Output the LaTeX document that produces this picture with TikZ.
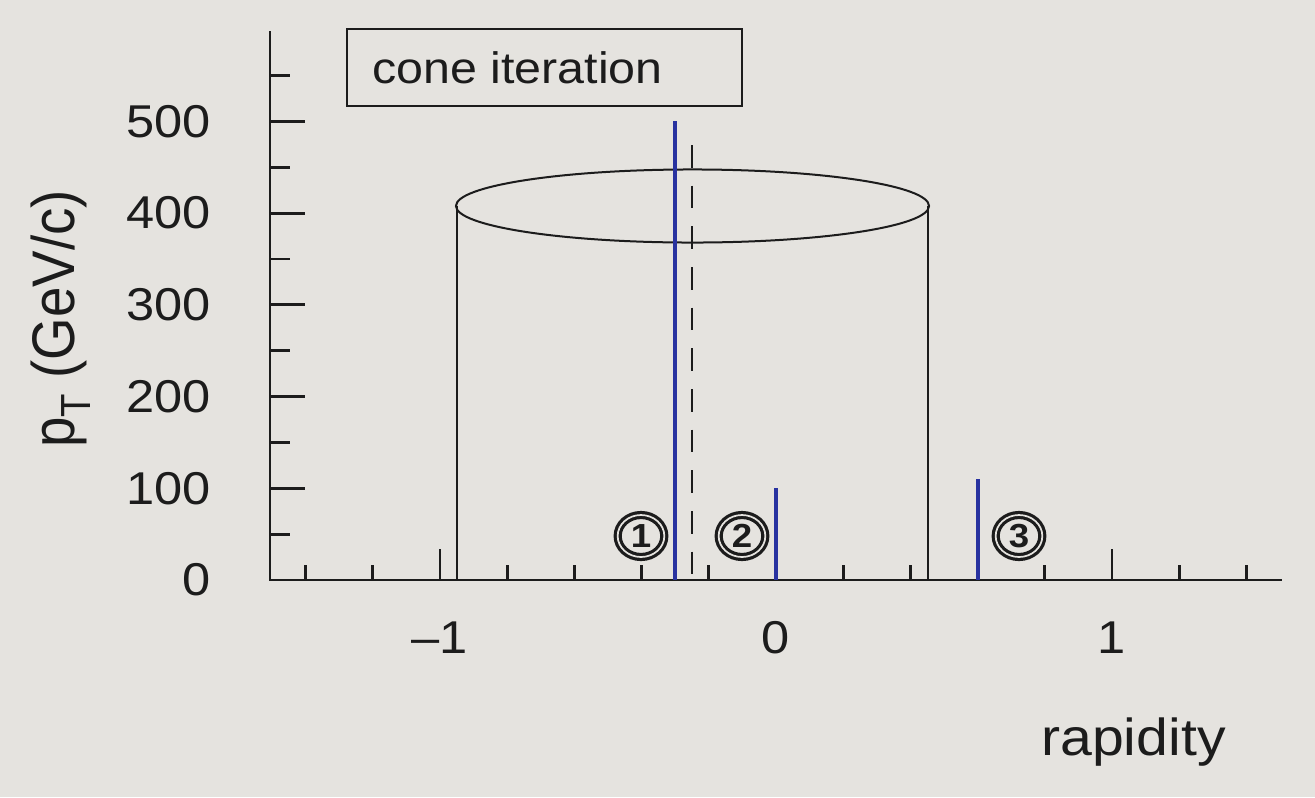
\documentclass[tikz,border=0pt]{standalone}
\usepackage{fontspec}
\setmainfont{Liberation Sans}
\usetikzlibrary{shapes.geometric}
\definecolor{bgc}{RGB}{229,227,223}
\definecolor{jetc}{RGB}{40,50,160}
\definecolor{inkc}{RGB}{28,28,28}
\newcommand\wideit[1]{\scalebox{1.1}[1]{#1}}
\tikzset{
  axisline/.style={line width=2.2pt, draw=inkc, line cap=rect},
  tickmark/.style={line width=2.2pt, draw=inkc},
  cyl/.style={line width=1.5pt, draw=inkc},
  jetline/.style={line width=3pt, draw=jetc},
  coneaxis/.style={line width=1.6pt, draw=inkc, dash pattern=on 17pt off 13.5pt},
  lbl/.style={font=\fontsize{34.5}{40}\selectfont, text=inkc, inner sep=0pt},
  cnum/.style={ellipse, draw=inkc, line width=2.4pt, double=bgc, double distance=1.3pt,
    minimum width=35pt, minimum height=31.5pt, inner sep=0pt,
    font=\fontsize{25}{25}\selectfont\bfseries, text=inkc},
}
\begin{document}
\begin{tikzpicture}[x=0.75pt,y=-0.75pt]
\fill[bgc] (0,0) rectangle (1315,797);
\useasboundingbox (0,0) rectangle (1315,797);
% axes
\draw[axisline] (270,32) -- (270,580) -- (1281,580);
% y ticks: major every 100, minor every 50
\foreach \p in {0,100,200,300,400,500}
  \draw[tickmark] (270,{580-0.9172*\p}) -- (305,{580-0.9172*\p});
\foreach \p in {50,150,250,350,450,550}
  \draw[tickmark] (270,{580-0.9172*\p}) -- (290,{580-0.9172*\p});
% x ticks
\foreach \r in {-1.4,-1.2,-0.8,-0.6,-0.4,-0.2,0.2,0.4,0.6,0.8,1.2,1.4}
  \draw[tickmark] ({776+336*\r},580) -- ({776+336*\r},565);
\foreach \r in {-1,0,1}
  \draw[tickmark] ({776+336*\r},580) -- ({776+336*\r},549);
% y labels
\foreach \p in {0,100,200,300,400,500}
  \node[lbl, anchor=east] (yl\p) at (211,{580-0.9172*\p}) {\wideit{\p}};
% x labels
\node[lbl] (xlm1) at (440,638) {\wideit{\textendash1}};
\node[lbl] (xl0) at (776,638) {\wideit{0}};
\node[lbl] (xl1) at (1112,638) {\wideit{1}};
% axis titles
\node[lbl, anchor=base west, font=\fontsize{39}{40}\selectfont] (xtitle) at (1041,755) {\wideit{rapidity}};
\node[lbl, rotate=90, font=\fontsize{41}{44}\selectfont] (ytitle) at (61,319) {\scalebox{1}[1.1]{p\textsubscript{T} (GeV/c)}};
% legend box
\draw[line width=1.6pt, draw=inkc] (347,29) rectangle (742,106);
\node[lbl, anchor=base west, font=\fontsize{33}{40}\selectfont] (title) at (372,83) {\wideit{cone iteration}};
% cone cylinder
\draw[cyl] (457,206) -- (457,580);
\draw[cyl] (928,206) -- (928,580);
\draw[cyl] (692.5,206) ellipse [x radius=177.4pt, y radius=27.4pt];
% cone axis
\draw[coneaxis] (692,145) -- (692,580);
% particles (jets)
\draw[jetline] (675,121) -- (675,580);
\draw[jetline] (776,488) -- (776,580);
\draw[jetline] (978,479) -- (978,580);
% circled numbers
\node[cnum] (c1) at (641,536) {\wideit{1}};
\node[cnum] (c2) at (742,536) {\wideit{2}};
\node[cnum] (c3) at (1019,536) {\wideit{3}};
\end{tikzpicture}
\end{document}
